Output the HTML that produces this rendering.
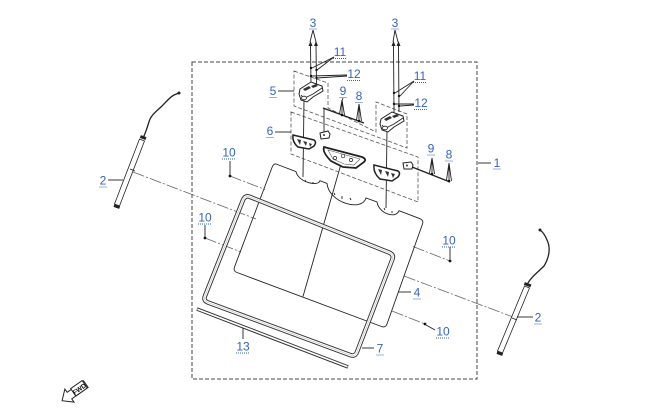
<!DOCTYPE html>
<html><head><meta charset="utf-8"><style>
html,body{margin:0;padding:0;background:#fff;width:650px;height:415px;overflow:hidden}
svg{display:block}
.l{font-family:"Liberation Sans",sans-serif;font-size:12px;fill:#3763b5;text-anchor:middle}
.u{stroke:#3763b5;stroke-width:1;stroke-dasharray:1,1;fill:none}
.k{stroke:#222;stroke-width:0.9;fill:none}
.d{stroke:#555;stroke-width:0.8;fill:none;stroke-dasharray:4,2}
.c{stroke:#666;stroke-width:0.8;fill:none;stroke-dasharray:12,2,2,2}
.p{stroke:#222;stroke-width:1;fill:#fff}
</style></head><body>
<svg width="650" height="415" viewBox="0 0 650 415" xmlns="http://www.w3.org/2000/svg">
<rect x="192" y="62" width="285" height="317" fill="none" stroke="#444" stroke-width="1" stroke-dasharray="4,2"/>
<line class="k" x1="478" y1="163" x2="491" y2="163"/>

<line class="c" x1="133" y1="172" x2="256" y2="219"/>
<line class="c" x1="404" y1="276" x2="513" y2="317"/>
<line class="c" x1="230" y1="176" x2="265" y2="189.5"/>
<line class="c" x1="413" y1="246.5" x2="450" y2="261"/>
<line class="c" x1="205" y1="238" x2="241" y2="252"/>
<line class="c" x1="392" y1="311" x2="425" y2="324"/>

<circle cx="230" cy="176" r="1.4" fill="#111"/>
<circle cx="205" cy="238" r="1.4" fill="#111"/>
<circle cx="450" cy="261" r="1.4" fill="#111"/>
<circle cx="425" cy="324" r="1.4" fill="#111"/>
<line class="k" x1="230" y1="161" x2="230" y2="175"/>
<line class="k" x1="205" y1="225" x2="205" y2="237"/>
<line class="k" x1="450" y1="247" x2="450" y2="260"/>
<line class="k" x1="426" y1="325" x2="435" y2="330"/>

<path class="k" stroke-width="1" d="M276,164 L296,171.6 C298,182 318,187 320,180.7 L327,183.4 C329,203 362,212 366,198 L377,202 C379,214 396,219 399,210.7 L419,218.3 Q424,220 422.5,224 L387,324 Q385.5,328 381.5,326.5 L237,272.5 Q233,271 234.5,267 L272,167.5 Q273.5,163.5 276,164 Z"/>
<path class="k" stroke-width="0.7" d="M305,180 l1,2 M313,182 l0,2 M334,193 l1,2 M342,196 l0,3 M350,198 l1,2 M384,208 l1,2 M392,211 l0,2"/>
<line class="k" x1="343" y1="157" x2="303" y2="296.5"/>

<path d="M249,196.5 L389,252.5 Q394,254.5 392.5,259 L357,352 Q355,357 350,355 L208,302.5 Q203,300.5 205,296 L243,200 Q245,195.5 249,196.5 Z" fill="none" stroke="#333" stroke-width="4.5"/>
<path d="M249,196.5 L389,252.5 Q394,254.5 392.5,259 L357,352 Q355,357 350,355 L208,302.5 Q203,300.5 205,296 L243,200 Q245,195.5 249,196.5 Z" fill="none" stroke="#fff" stroke-width="2.6"/>
<path d="M249,196.5 L389,252.5 Q394,254.5 392.5,259 L357,352 Q355,357 350,355 L208,302.5 Q203,300.5 205,296 L243,200 Q245,195.5 249,196.5 Z" fill="none" stroke="#999" stroke-width="0.4"/>

<line x1="197" y1="309" x2="348" y2="367" stroke="#333" stroke-width="3.6"/>
<line x1="197.5" y1="309.2" x2="347.5" y2="366.8" stroke="#fff" stroke-width="1.6"/>
<line class="k" x1="243" y1="328" x2="243" y2="339"/>
<line class="k" x1="398" y1="292" x2="411" y2="292"/>
<line class="k" x1="362" y1="348" x2="374" y2="348"/>

<path class="d" d="M294,71 L328,83 L328,108 L376,132 L376,102 L407,114 L407,148 L294,106 Z"/>
<path class="d" d="M291,112 L418,157 L418,202 L291,154 Z"/>
<line class="k" x1="278" y1="91" x2="294" y2="91"/>
<line class="k" x1="275" y1="132" x2="291" y2="132"/>

<line class="k" x1="313" y1="30" x2="310" y2="42"/>
<line class="k" x1="313" y1="30" x2="316" y2="42"/>
<line class="k" x1="310.5" y1="45" x2="311" y2="86"/>
<line class="k" x1="316" y1="45" x2="316.5" y2="84"/>
<path d="M308.5,46 L310.5,41 L312.5,46 Z M314,46 L316,41 L318,46 Z" fill="#222"/>
<circle cx="311" cy="68" r="1.2" fill="#111"/><circle cx="316.5" cy="70" r="1.2" fill="#111"/>
<circle cx="311" cy="76" r="1.2" fill="#111"/><circle cx="316.5" cy="78" r="1.2" fill="#111"/>
<line class="k" x1="334" y1="57" x2="312" y2="68"/>
<line class="k" x1="334" y1="57" x2="317" y2="70"/>
<line class="k" x1="347" y1="75" x2="312" y2="76"/>
<line class="k" x1="347" y1="76" x2="317" y2="78"/>

<line class="k" x1="395" y1="30" x2="393" y2="42"/>
<line class="k" x1="395" y1="30" x2="398" y2="42"/>
<line class="k" x1="393.5" y1="45" x2="394" y2="113"/>
<line class="k" x1="398.5" y1="45" x2="399" y2="112"/>
<path d="M391.5,46 L393.5,41 L395.5,46 Z M396.5,46 L398.5,41 L400.5,46 Z" fill="#222"/>
<circle cx="394" cy="93" r="1.2" fill="#111"/><circle cx="399" cy="96" r="1.2" fill="#111"/>
<circle cx="394" cy="104" r="1.2" fill="#111"/><circle cx="399" cy="106" r="1.2" fill="#111"/>
<line class="k" x1="414" y1="81" x2="395" y2="93"/>
<line class="k" x1="414" y1="81" x2="400" y2="96"/>
<line class="k" x1="414" y1="104" x2="395" y2="104"/>
<line class="k" x1="414" y1="105" x2="400" y2="106"/>

<line class="k" x1="304" y1="100" x2="303" y2="177"/>
<line class="k" x1="387" y1="130" x2="386" y2="208"/>
<line class="k" x1="324" y1="108" x2="324" y2="132"/>

<g>
<path class="p" d="M300,89 L311,82 L322,86 L323,91 L313,97 L307,102 L301,100 L299,94 Z"/>
<path d="M303,89 L309,86 L311,88 L305,91 Z M311,86 L316,84 L318,86 L313,88 Z" fill="#333"/>
<path class="k" d="M301,95 Q304,99 307,97 L313,94 L322,88"/>
<ellipse cx="304" cy="98" rx="2.5" ry="1.8" fill="#fff" stroke="#222" stroke-width="0.8"/>
</g>
<g transform="translate(81,30)">
<path class="p" d="M300,89 L311,82 L322,86 L323,91 L313,97 L307,102 L301,100 L299,94 Z"/>
<path d="M303,89 L309,86 L311,88 L305,91 Z M311,86 L316,84 L318,86 L313,88 Z" fill="#333"/>
<path class="k" d="M301,95 Q304,99 307,97 L313,94 L322,88"/>
<ellipse cx="304" cy="98" rx="2.5" ry="1.8" fill="#fff" stroke="#222" stroke-width="0.8"/>
</g>

<line x1="323" y1="108" x2="364" y2="123" stroke="#222" stroke-width="1.4"/>
<line class="k" x1="343" y1="98" x2="342" y2="101"/>
<path class="k" d="M342,100 L339.5,114 M342,100 L344.5,115 M342,100 L342,114"/>
<circle cx="342" cy="115" r="1.3" fill="#111"/>
<path class="k" d="M359,104 L356.5,120 M359,104 L361.5,121 M359,104 L359,120"/>
<circle cx="359" cy="121" r="1.3" fill="#111"/>
<line x1="407" y1="165" x2="450" y2="182" stroke="#222" stroke-width="1.4"/>
<path class="k" d="M432,158 L429.5,173 M432,158 L434.5,174 M432,158 L432,173"/>
<circle cx="432" cy="174" r="1.3" fill="#111"/>
<path class="k" d="M449,163 L446.5,180 M449,163 L451.5,181 M449,163 L449,180"/>
<circle cx="449" cy="181" r="1.3" fill="#111"/>

<path class="p" d="M320,133 L328,131 L330,134 L329,138 L321,139 Z"/>
<circle cx="324" cy="135" r="1" fill="#333"/>
<path class="p" d="M403,163 L411,162 L413,165 L412,169 L404,169 Z"/>
<circle cx="407" cy="165.5" r="1" fill="#333"/>

<path d="M293,135 L314,140 Q317,142 314,146 L309,149 L298,147 Q292,142 293,135 Z" fill="#fff" stroke="#222" stroke-width="1.5"/>
<path d="M297,139 L301,140 L300,145 Z M303,141 L307,142 L306,146 Z M309,143 L312,144 L310,147 Z" fill="#333"/>
<path d="M374,165 L398,171 Q401,173 398,177 L392,181 L380,179 Q373,173 374,165 Z" fill="#fff" stroke="#222" stroke-width="1.5"/>
<path d="M378,169 L382,170 L381,175 Z M385,171 L389,172 L388,177 Z M391,173 L395,174 L393,178 Z" fill="#333"/>
<path d="M324,147 L362,157 Q367,159 364,162 L356,168 L343,167 L331,161 Q322,152 324,147 Z" fill="#fff" stroke="#222" stroke-width="1.8"/>
<path d="M328,150 L360,159 L354,165 L344,164 L333,159 Z" fill="none" stroke="#555" stroke-width="0.6"/>
<circle cx="335" cy="158" r="1.6" fill="#fff" stroke="#222" stroke-width="0.7"/>
<circle cx="343" cy="156" r="1.8" fill="#fff" stroke="#222" stroke-width="0.7"/>
<circle cx="351" cy="160" r="1.6" fill="#fff" stroke="#222" stroke-width="0.7"/>

<!-- strut 2 left -->
<path d="M144.5,141 L139.5,139 L114.5,204 L119.5,206 Z" fill="#fff" stroke="#222" stroke-width="0.8"/>
<line class="k" x1="130" y1="169" x2="135" y2="171"/>
<path d="M143,138 C147,130 148,124 150,119 C153,113 158,110 162,106 C167,101 170,97 174,95 L179,93" fill="none" stroke="#222" stroke-width="1.3"/>
<rect x="140" y="136" width="6" height="3" fill="#222" transform="rotate(20 143 138)"/>
<rect x="114" y="205" width="6" height="3" fill="#222" transform="rotate(20 117 206)"/>
<circle cx="179" cy="93" r="1.5" fill="#222"/>
<line class="k" x1="108" y1="180" x2="123" y2="180"/>

<!-- strut 2 right -->
<path d="M529.5,288 L524.5,286 L497.5,351 L502.5,353 Z" fill="#fff" stroke="#222" stroke-width="0.8"/>
<line class="k" x1="512" y1="318" x2="517" y2="320"/>
<path d="M527,285 C530,278 538,272 544,266 C549,258 551,248 547,240 C545,235 543,232 540,230" fill="none" stroke="#222" stroke-width="1.3"/>
<rect x="524" y="283" width="7" height="3" fill="#222" transform="rotate(20 527 285)"/>
<rect x="497" y="352" width="6" height="3" fill="#222" transform="rotate(20 500 353)"/>
<circle cx="540" cy="230" r="1.5" fill="#222"/>
<line class="k" x1="517" y1="317" x2="533" y2="317"/>

<g transform="translate(76,391) rotate(-35)">
<path d="M-17,0 L-8,-8 L-8,-4 L12,-4 L12,4 L-8,4 L-8,8 Z" fill="#fff" stroke="#222" stroke-width="1"/>
<rect x="-3" y="-5" width="14" height="9" fill="#fff" stroke="#222" stroke-width="1"/>
<text x="4" y="2.5" font-family="Liberation Sans,sans-serif" font-size="6.5" font-weight="bold" text-anchor="middle" fill="#111">FWD</text>
</g>

<g>
<text class="l" x="497" y="167">1</text><line class="u" x1="493.5" y1="169" x2="500.5" y2="169"/>
<text class="l" x="103" y="184.5">2</text><line class="u" x1="99.5" y1="187" x2="106.5" y2="187"/>
<text class="l" x="538" y="321.5">2</text><line class="u" x1="534.5" y1="324" x2="541.5" y2="324"/>
<text class="l" x="313" y="27">3</text><line class="u" x1="309.5" y1="29" x2="316.5" y2="29"/>
<text class="l" x="395" y="27">3</text><line class="u" x1="391.5" y1="29" x2="398.5" y2="29"/>
<text class="l" x="340" y="56">11</text><line class="u" x1="333" y1="58.5" x2="347" y2="58.5"/>
<text class="l" x="420" y="80">11</text><line class="u" x1="413" y1="82.5" x2="427" y2="82.5"/>
<text class="l" x="354" y="78">12</text><line class="u" x1="347" y1="80.5" x2="361" y2="80.5"/>
<text class="l" x="421" y="107">12</text><line class="u" x1="414" y1="109.5" x2="428" y2="109.5"/>
<text class="l" x="273" y="95">5</text><line class="u" x1="269.5" y1="97.5" x2="276.5" y2="97.5"/>
<text class="l" x="343" y="95">9</text><line class="u" x1="339.5" y1="97.5" x2="346.5" y2="97.5"/>
<text class="l" x="359" y="100">8</text><line class="u" x1="355.5" y1="102.5" x2="362.5" y2="102.5"/>
<text class="l" x="431" y="152.5">9</text><line class="u" x1="427.5" y1="155" x2="434.5" y2="155"/>
<text class="l" x="449" y="158.5">8</text><line class="u" x1="445.5" y1="161" x2="452.5" y2="161"/>
<text class="l" x="270" y="135">6</text><line class="u" x1="266.5" y1="137.5" x2="273.5" y2="137.5"/>
<text class="l" x="229" y="156.5">10</text><line class="u" x1="222" y1="159" x2="236" y2="159"/>
<text class="l" x="205" y="221.5">10</text><line class="u" x1="198" y1="224" x2="212" y2="224"/>
<text class="l" x="449" y="244.5">10</text><line class="u" x1="442" y1="247" x2="456" y2="247"/>
<text class="l" x="443" y="335.5">10</text><line class="u" x1="436" y1="338" x2="450" y2="338"/>
<text class="l" x="417" y="296.5">4</text><line class="u" x1="413.5" y1="299" x2="420.5" y2="299"/>
<text class="l" x="380" y="352.5">7</text><line class="u" x1="376.5" y1="355" x2="383.5" y2="355"/>
<text class="l" x="243" y="350.5">13</text><line class="u" x1="236" y1="353" x2="250" y2="353"/>
</g>
</svg>
</body></html>
